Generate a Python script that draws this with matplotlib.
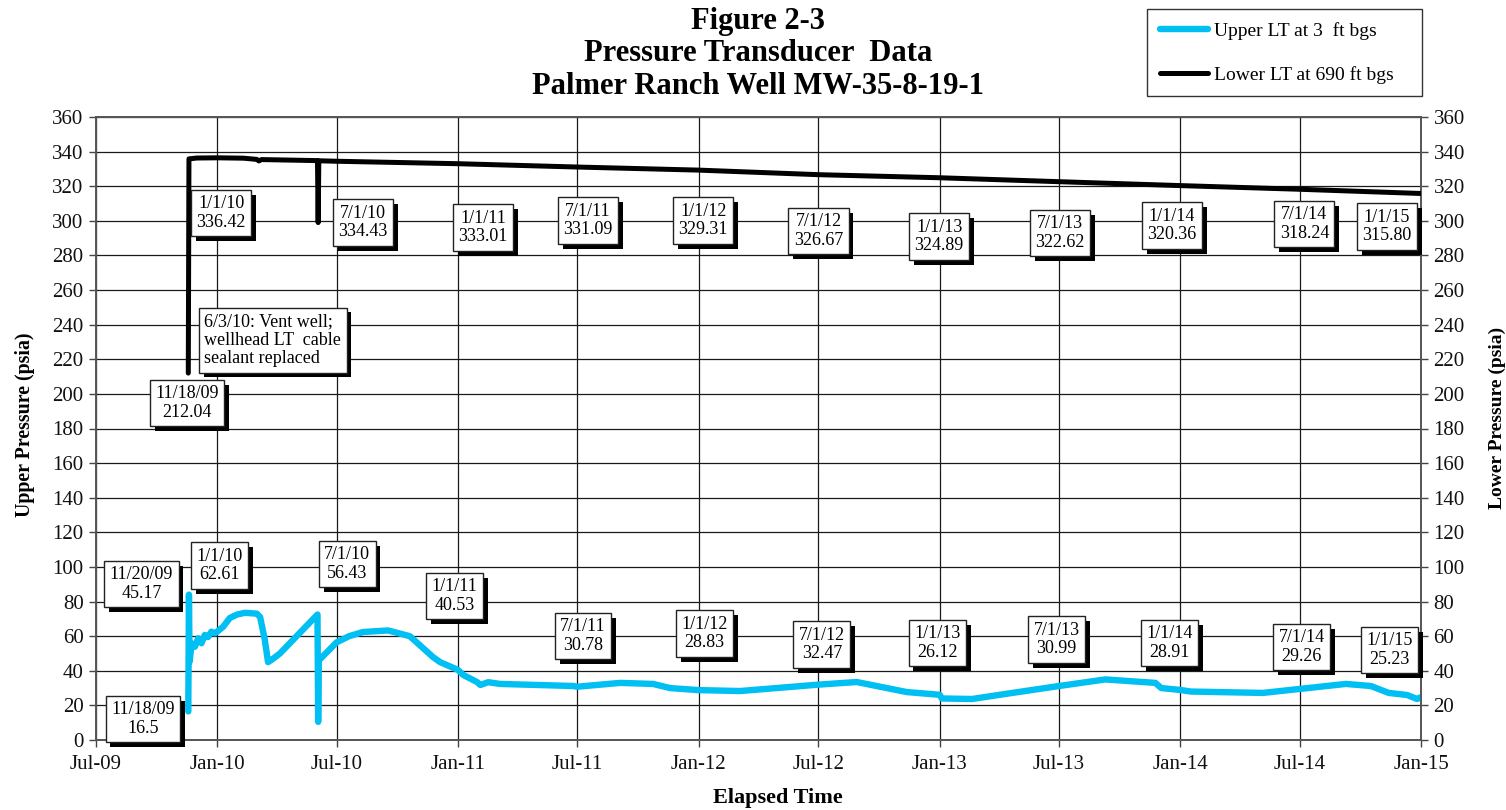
import matplotlib
matplotlib.use('Agg')
import matplotlib.pyplot as plt
import matplotlib.dates as mdates
import matplotlib.patheffects as pe
from matplotlib.lines import Line2D
import pandas as pd

plt.rcParams['font.family'] = ['Liberation Serif', 'DejaVu Serif']

# ---------------- data ----------------
upper_dates = ['2009-11-18', '2009-11-19', '2009-11-20', '2009-11-23', '2009-11-28',
               '2009-12-03', '2009-12-08', '2009-12-13', '2009-12-18', '2009-12-23',
               '2009-12-28', '2010-01-01', '2010-01-10', '2010-01-20', '2010-01-31',
               '2010-02-12', '2010-03-02', '2010-03-07', '2010-03-14', '2010-03-19',
               '2010-03-25', '2010-04-06', '2010-06-02', '2010-06-03', '2010-06-04',
               '2010-07-01', '2010-07-20', '2010-08-10', '2010-09-17', '2010-10-20',
               '2010-11-24', '2010-12-05', '2011-01-01', '2011-01-09', '2011-01-30',
               '2011-02-04', '2011-02-16', '2011-03-06', '2011-06-25', '2011-07-01',
               '2011-09-04', '2011-10-24', '2011-11-19', '2012-01-01', '2012-03-04',
               '2012-07-01', '2012-08-28', '2012-11-12', '2013-01-01', '2013-01-04',
               '2013-02-19', '2013-04-21', '2013-07-01', '2013-09-09', '2013-11-24',
               '2013-12-03', '2014-01-01', '2014-01-17', '2014-05-06', '2014-07-01',
               '2014-09-09', '2014-10-17', '2014-11-13', '2014-12-11', '2014-12-26',
               '2015-01-01']
upper_values = [16.5, 84.0, 45.17, 55.9, 53.9,
                58.8, 55.9, 60.7, 59.5, 62.6,
                61.6, 62.61, 65.5, 70.5, 72.5,
                73.5, 73.0, 71.0, 58.0, 45.0,
                46.5, 50.0, 72.5, 10.5, 46.0,
                56.43, 60.0, 62.4, 63.3, 60.0,
                48.0, 45.0, 40.53, 37.6, 33.5,
                31.8, 33.4, 32.4, 31.2, 30.78,
                33.0, 32.4, 30.0, 28.83, 28.3,
                32.0, 33.5, 27.7, 26.12, 24.0,
                23.7, 27.2, 31.2, 35.0, 33.0,
                30.0, 28.91, 28.0, 27.2, 29.5,
                32.4, 31.2, 27.2, 26.0, 23.7,
                24.8]

lower_dates = ['2009-11-18', '2009-11-19', '2009-12-01', '2010-01-01', '2010-02-10',
               '2010-03-02', '2010-03-05', '2010-03-09', '2010-06-02', '2010-06-03',
               '2010-06-04', '2010-07-01', '2011-01-01', '2011-07-01', '2012-01-01',
               '2012-07-01', '2013-01-01', '2013-07-01', '2014-01-01', '2014-07-01',
               '2015-01-01']
lower_values = [212.04, 335.8, 336.3, 336.42, 336.2,
                335.5, 334.6, 335.4, 334.8, 299.0,
                334.7, 334.43, 333.01, 331.09, 329.31,
                326.67, 324.89, 322.62, 320.36, 318.24,
                315.80]

upper_label_dates = ['11/18/09', '11/20/09', '1/1/10', '7/1/10', '1/1/11', '7/1/11',
                     '1/1/12', '7/1/12', '1/1/13', '7/1/13', '1/1/14', '7/1/14', '1/1/15']
upper_label_values = ['16.5', '45.17', '62.61', '56.43', '40.53', '30.78',
                      '28.83', '32.47', '26.12', '30.99', '28.91', '29.26', '25.23']
lower_label_dates = ['11/18/09', '1/1/10', '7/1/10', '1/1/11', '7/1/11', '1/1/12',
                     '7/1/12', '1/1/13', '7/1/13', '1/1/14', '7/1/14', '1/1/15']
lower_label_values = ['212.04', '336.42', '334.43', '333.01', '331.09', '329.31',
                      '326.67', '324.89', '322.62', '320.36', '318.24', '315.80']
note_text = '6/3/10: Vent well;\nwellhead LT  cable\nsealant replaced'

# label placement (layout, not data)
upper_label_pos = [('2009-09-10', 12.1), ('2009-09-08', 90.1), ('2010-01-05', 100.8),
                   ('2010-07-17', 101.7), ('2010-12-27', 83.2), ('2011-07-10', 60.1),
                   ('2012-01-10', 61.5), ('2012-07-06', 55.2), ('2012-12-28', 56.0),
                   ('2013-06-27', 58.1), ('2013-12-16', 56.0), ('2014-07-04', 53.7),
                   ('2014-11-14', 52.0)]
lower_label_pos = [('2009-11-16', 194.7), ('2010-01-07', 304.5), ('2010-08-10', 299.0),
                   ('2011-02-08', 296.1), ('2011-07-17', 300.2), ('2012-01-08', 300.2),
                   ('2012-07-01', 294.1), ('2012-12-31', 290.9), ('2013-07-02', 293.0),
                   ('2013-12-19', 297.3), ('2014-07-08', 298.2), ('2014-11-10', 296.7)]
note_pos = ('2010-03-26', 231.1)

# ---------------- figure ----------------
W, H = 1506, 810
fig = plt.figure(figsize=(W / 100, H / 100), dpi=100)
L, R, T, B = 96, 1421, 117, 740
ax = fig.add_axes([L / W, 1 - B / H, (R - L) / W, (B - T) / H])
ax2 = ax.twinx()

cyan = '#00BFF2'
ax.plot(pd.to_datetime(upper_dates), upper_values, color=cyan, lw=4.6,
        solid_joinstyle='round', solid_capstyle='round', zorder=3)
ax2.plot(pd.to_datetime(lower_dates), lower_values, color='black', lw=3.6,
         solid_joinstyle='round', solid_capstyle='round', zorder=3)

xmin, xmax = pd.Timestamp('2009-07-01'), pd.Timestamp('2015-01-01')
for a in (ax, ax2):
    a.set_xlim(xmin, xmax)
    a.set_ylim(0, 360)
    a.set_yticks(range(0, 361, 20))
ax.xaxis.set_major_locator(mdates.MonthLocator(bymonth=[1, 7]))
ax.xaxis.set_major_formatter(mdates.DateFormatter('%b-%y'))
ax.grid(True, color='#1a1a1a', lw=0.9)
ax.set_axisbelow(True)

for a in (ax, ax2):
    a.tick_params(direction='out', length=5, width=1, color='#444444',
                  labelsize=15, labelcolor='#111111')
    for s in a.spines.values():
        s.set_color('#555555')
        s.set_linewidth(1.2)
ax.tick_params(axis='x', pad=6)
ax.tick_params(axis='y', pad=4)
ax2.tick_params(axis='y', pad=4)

fig.text(25 / W, 1 - 425 / H, 'Upper Pressure (psia)', rotation=90, ha='center',
         va='center', fontsize=14.3, fontweight='bold')
fig.text(1497 / W, 1 - 418 / H, 'Lower Pressure (psia)', rotation=90, ha='center',
         va='center', fontsize=14, fontweight='bold')
fig.text(778 / W, 1 - 803 / H, 'Elapsed Time', ha='center', va='baseline',
         fontsize=16, fontweight='bold')

for txt, yb in [('Figure 2-3', 29), ('Pressure Transducer  Data', 61),
                ('Palmer Ranch Well MW-35-8-19-1', 94)]:
    fig.text(758 / W, 1 - yb / H, txt, ha='center', va='baseline',
             fontsize=22, fontweight='bold')

shadow = [pe.withSimplePatchShadow(offset=(3.5, -3.5), shadow_rgbFace='black', alpha=1.0)]


def box_label(text, pos, align='center'):
    t = ax2.text(pd.Timestamp(pos[0]), pos[1], text, ha='center', va='center',
                 multialignment=align, fontsize=13, linespacing=1.12, zorder=6,
                 bbox=dict(boxstyle='square,pad=0.3', facecolor='white',
                           edgecolor='#222222', lw=1.0))
    t.get_bbox_patch().set_path_effects(shadow)
    return t


for d, v, p in zip(upper_label_dates, upper_label_values, upper_label_pos):
    box_label(f'{d}\n{v}', p)
for d, v, p in zip(lower_label_dates, lower_label_values, lower_label_pos):
    box_label(f'{d}\n{v}', p)
box_label(note_text, note_pos, align='left')

handles = [Line2D([], [], color=cyan, lw=4.6, solid_capstyle='round'),
           Line2D([], [], color='black', lw=3.6, solid_capstyle='round')]
leg = fig.legend(handles, ['Upper LT at 3  ft bgs', 'Lower LT at 690 ft bgs'],
                 loc='upper left', bbox_to_anchor=(1147 / W, 1 - 10 / H, 275 / W, 0.001),
                 mode='expand', borderaxespad=0, fontsize=14, frameon=True,
                 fancybox=False, edgecolor='black', labelspacing=1.35,
                 handlelength=2.5, handletextpad=0.3, borderpad=0.65)
leg.get_frame().set_linewidth(1.0)

fig.savefig('out.png', dpi=100)
